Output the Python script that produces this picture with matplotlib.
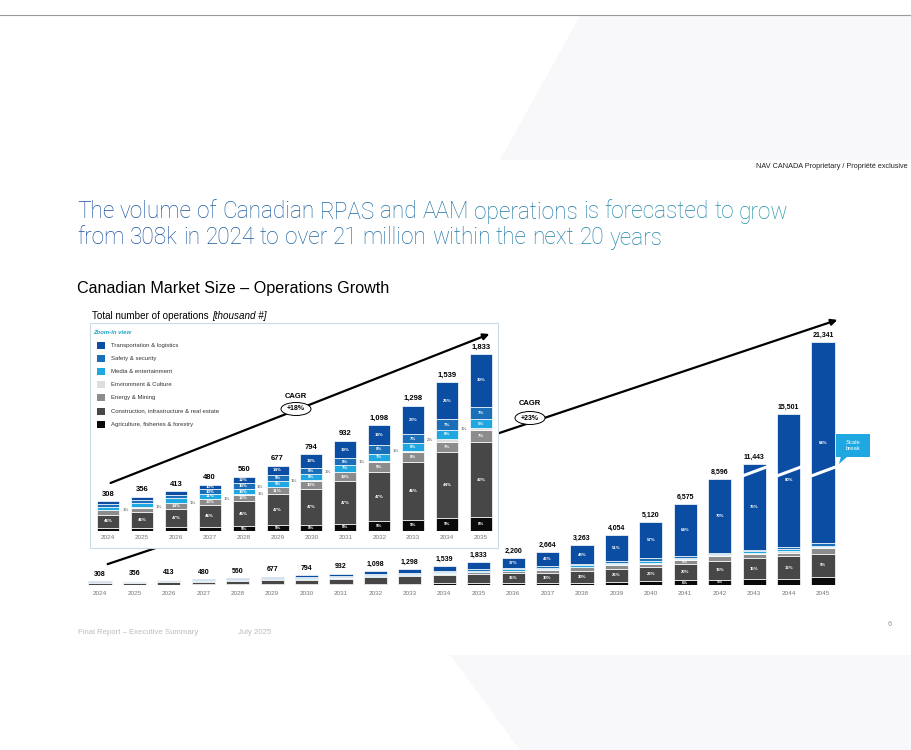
import numpy as np
import matplotlib.pyplot as plt
from matplotlib.patches import Rectangle, Ellipse, FancyArrowPatch, Polygon
from matplotlib.colors import to_rgb

plt.rcParams["font.family"] = ["Liberation Sans", "DejaVu Sans"]

# ---- data (thousand operations, share % per segment) ----
years = list(range(2024, 2046))
totals = np.array([308, 356, 413, 480, 560, 677, 794, 932, 1098, 1298, 1539, 1833,
                   2200, 2664, 3263, 4054, 5120, 6575, 8596, 11443, 15501, 21341])

segments = ["Agriculture, fisheries & forestry",
            "Construction, infrastructure & real estate",
            "Energy & Mining",
            "Environment & Culture",
            "Media & entertainment",
            "Safety & security",
            "Transportation & logistics"]
agri = [9, 9, 9, 9, 9, 9, 8, 8, 9, 9, 9, 8, 7, 7, 6, 7, 6, 6, 5, 4, 3, 3]
constr = [46, 46, 47, 46, 46, 47, 47, 47, 47, 46, 44, 42, 36, 30, 30, 26, 22, 20, 18, 15, 12, 9]
energy = [14, 13, 14, 13, 12, 11, 10, 10, 9, 8, 7, 7, 9, 10, 8, 8, 6, 5, 4, 3, 2, 2]
env = [1, 1, 1, 1, 1, 1, 1, 1, 1, 1, 2, 1, 1, 1, 1, 1, 1, 1, 1, 1, 1, 0.5]
media = [12, 12, 11, 11, 10, 9, 8, 7, 7, 6, 6, 5, 5, 5, 4, 3, 3, 2, 1, 1, 1, 0.5]
safety = [10, 10, 9, 10, 10, 9, 8, 8, 8, 7, 7, 7, 5, 5, 3, 4, 5, 2, 1, 1, 1, 1]
transp = [8, 9, 9, 10, 12, 14, 18, 19, 19, 23, 25, 30, 37, 42, 48, 51, 57, 64, 70, 75, 80, 84]
shares = [agri, constr, energy, env, media, safety, transp]
colors = ["#0a0a0a", "#474747", "#8c8c8c", "#dedede", "#1ea7e1", "#1b6fb8", "#0b4da2"]

title_lines = ["The volume of Canadian RPAS and AAM operations is forecasted to grow",
               "from 308k in 2024 to over 21 million within the next 20 years"]

n_zoom = 12  # 2024-2035 in the zoom-in view

W, H = 912, 750
fig = plt.figure(figsize=(W / 100, H / 100), dpi=100)


def fx(x):
    return x / W


def fy(y):
    return 1 - y / H


# faint slide background
fig.add_artist(Polygon([(fx(580), fy(16)), (fx(912), fy(16)), (fx(912), fy(160)), (fx(500), fy(160))],
                       closed=True, transform=fig.transFigure, fc="#f8f8fa", ec="none", zorder=-10))
fig.add_artist(Polygon([(fx(450), fy(655)), (fx(912), fy(655)), (fx(912), fy(750)), (fx(520), fy(750))],
                       closed=True, transform=fig.transFigure, fc="#f8f8fa", ec="none", zorder=-10))
fig.add_artist(plt.Line2D([0, 1], [fy(15), fy(15)], transform=fig.transFigure, color="#9a9a9a", lw=0.8))

# header
fig.text(fx(908), fy(167), "NAV CANADA Proprietary / Propriété exclusive", ha="right", va="center",
         fontsize=5.2, color="#222222")

# title with blue -> teal gradient, word by word
renderer = fig.canvas.get_renderer()
c0, c1 = np.array(to_rgb("#1c4f9e")), np.array(to_rgb("#1f98ab"))
tfont = dict(fontsize=16.3, family=["Roboto", "DejaVu Sans"], fontweight="light")
probe1 = fig.text(0, 0, "a a", **tfont)
probe2 = fig.text(0, 0, "aa", **tfont)
space = probe1.get_window_extent(renderer).width - probe2.get_window_extent(renderer).width
probe1.remove()
probe2.remove()
for line, yy in zip(title_lines, (212, 238)):
    xx = 77.0
    for word in line.split(" "):
        frac = min(max((xx - 77) / 713, 0), 1)
        t = fig.text(fx(xx), fy(yy), word, ha="left", va="center", color=c0 + (c1 - c0) * frac, **tfont)
        xx += t.get_window_extent(renderer).width + space

fig.text(fx(77), fy(288), "Canadian Market Size \u2013 Operations Growth", ha="left", va="center",
         fontsize=11.6, color="black")
fig.text(fx(92), fy(316), "Total number of operations", ha="left", va="center", fontsize=7.1)
fig.text(fx(212), fy(316), "[thousand #]", ha="left", va="center", fontsize=7.1, style="italic")

# footer
fig.text(fx(78), fy(632), "Final Report \u2013 Executive Summary", fontsize=5.6, color="#bcbcbc", va="center")
fig.text(fx(238), fy(632), "July 2025", fontsize=5.6, color="#bcbcbc", va="center")
fig.text(fx(888), fy(624), "6", fontsize=5.5, color="#999999", va="center")

# ---- main chart with scale break ----
B1, B2, K = 8700.0, 11443.0, 0.416


def fwd(v):
    v = np.asarray(v, dtype=float)
    return np.where(v <= B1, v, np.where(v <= B2, B1 + (v - B1) * K, v - (B2 - B1) * (1 - K)))


def inv(u):
    u = np.asarray(u, dtype=float)
    u2 = B1 + (B2 - B1) * K
    return np.where(u <= B1, u, np.where(u <= u2, B1 + (u - B1) / K, u + (B2 - B1) * (1 - K)))


axm = fig.add_axes([fx(82.8), fy(585), 757.4 / W, 265 / H], zorder=0)
axm.patch.set_visible(False)
axm.set_yscale("function", functions=(fwd, inv))
x = np.arange(len(years))
bottom = np.zeros(len(years))
for name, sh, c in zip(segments, shares, colors):
    vals = totals * np.array(sh) / 100.0
    axm.bar(x, vals, 0.67, bottom=bottom, color=c, edgecolor="white", linewidth=0.5)
    for i in range(n_zoom, len(years)):
        if sh[i] >= 5 and vals[i] * 0.0123 >= 4:
            yc = inv((fwd(bottom[i]) + fwd(bottom[i] + vals[i])) / 2)
            axm.text(i, yc, f"{sh[i]:g}%", ha="center", va="center", fontsize=3.1,
                     color="white", fontweight="bold")
    bottom += vals
for i, t in enumerate(totals):
    axm.annotate(f"{t:,}", (i, t), xytext=(0, 2.5), textcoords="offset points", ha="center",
                 va="bottom", fontsize=5, fontweight="bold")
axm.set_xlim(-0.5, len(years) - 0.5)
axm.set_ylim(0, 23150)
axm.set_xticks(x, [str(y) for y in years])
axm.tick_params(axis="x", length=0, labelsize=4.6, labelcolor="#777777", pad=4)
axm.set_yticks([])
axm.minorticks_off()
for s in axm.spines.values():
    s.set_visible(False)

# scale break slashes
for i in (19, 20, 21):
    axm.plot([i - 0.38, i + 0.38], [9000, 10900], color="white", lw=2.2, solid_capstyle="butt")

# scale break callout
fig.add_artist(Rectangle((fx(836), fy(457)), 34 / W, 23 / H, transform=fig.transFigure,
                         fc="#1ea7e1", ec="none", zorder=4))
fig.add_artist(Polygon([(fx(841), fy(456)), (fx(848), fy(456)), (fx(839), fy(464))], closed=True,
                       transform=fig.transFigure, fc="#1ea7e1", ec="none", zorder=4))
fig.text(fx(853), fy(445.5), "Scale\nbreak", ha="center", va="center", fontsize=4.2, color="white",
         linespacing=1.1, zorder=5)

# long CAGR arrow (passes behind zoom box)
fig.add_artist(FancyArrowPatch((fx(105), fy(565)), (fx(840), fy(319)), transform=fig.transFigure,
                               arrowstyle="-|>", mutation_scale=9, lw=1.6, color="black", zorder=1))
fig.text(fx(530), fy(404), "CAGR", ha="center", va="center", fontsize=5.5, fontweight="bold", zorder=5)
fig.add_artist(Ellipse((fx(530), fy(418)), 30 / W, 13 / H, transform=fig.transFigure,
                       fc="white", ec="black", lw=0.7, zorder=4))
fig.text(fx(530), fy(418), "+23%", ha="center", va="center", fontsize=5, fontweight="bold", zorder=5)

# ---- zoom-in view ----
fig.add_artist(Rectangle((fx(90), fy(548)), 408 / W, 225 / H, transform=fig.transFigure,
                         fc="white", ec="#c7dde4", lw=0.8, zorder=2))
axi = fig.add_axes([fx(91), fy(531), 407 / W, 208 / H], zorder=3)
axi.patch.set_visible(False)
xi = np.arange(n_zoom)
tz = totals[:n_zoom]
bottom = np.zeros(n_zoom)
for name, sh, c in zip(segments, shares, colors):
    s = np.array(sh[:n_zoom], dtype=float)
    vals = tz * s / 100.0
    axi.bar(xi, vals, 0.65, bottom=bottom, color=c, edgecolor="white", linewidth=0.5)
    for i in range(n_zoom):
        if vals[i] * 0.0966 >= 4.5 and name != "Environment & Culture":
            axi.text(i, bottom[i] + vals[i] / 2, f"{sh[i]:g}%", ha="center", va="center",
                     fontsize=3.2, color="white", fontweight="bold")
        if name == "Environment & Culture":
            side = 1 if i < 5 else -1
            axi.text(i + side * 0.42, bottom[i] + vals[i] / 2, f"{sh[i]:g}%",
                     ha="left" if side > 0 else "right", va="center", fontsize=3.2, color="#444444")
    bottom += vals
for i, t in enumerate(tz):
    axi.annotate(f"{t:,}", (i, t), xytext=(0, 2.5), textcoords="offset points", ha="center",
                 va="bottom", fontsize=5.5, fontweight="bold")
axi.set_xlim(-0.5, n_zoom - 0.5)
axi.set_ylim(0, 2153)
axi.set_xticks(xi, [str(y) for y in years[:n_zoom]])
axi.tick_params(axis="x", length=0, labelsize=4.6, labelcolor="#777777", pad=3)
axi.set_yticks([])
for s in axi.spines.values():
    s.set_visible(False)

# legend of zoom-in view
fig.text(fx(93), fy(333), "Zoom-in view", fontsize=4.3, color="#1aa3c9", style="italic",
         fontweight="bold", va="center", zorder=5)
for k, (name, c) in enumerate(zip(segments[::-1], colors[::-1])):
    yy = 345 + k * 13.2
    fig.add_artist(Rectangle((fx(97), fy(yy + 3.5)), 8 / W, 7 / H, transform=fig.transFigure,
                             fc=c, ec="none", zorder=5))
    fig.text(fx(111), fy(yy), name, fontsize=4.3, color="#333333", va="center", zorder=5)

# zoom CAGR arrow
fig.add_artist(FancyArrowPatch((fx(108), fy(484)), (fx(492), fy(333)), transform=fig.transFigure,
                               arrowstyle="-|>", mutation_scale=9, lw=1.6, color="black", zorder=4))
fig.text(fx(296), fy(396), "CAGR", ha="center", va="center", fontsize=5.5, fontweight="bold", zorder=5)
fig.add_artist(Ellipse((fx(296), fy(409)), 30 / W, 13 / H, transform=fig.transFigure,
                       fc="white", ec="black", lw=0.7, zorder=5))
fig.text(fx(296), fy(409), "+18%", ha="center", va="center", fontsize=5, fontweight="bold", zorder=6)

fig.savefig("out.png", dpi=100, facecolor="white")
